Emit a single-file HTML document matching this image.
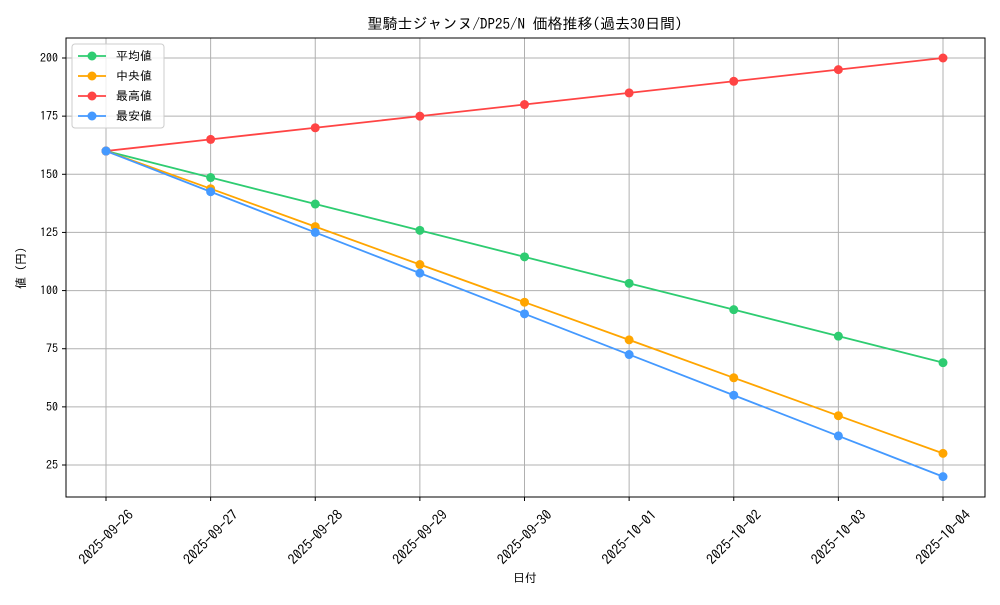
<!DOCTYPE html>
<html><head><meta charset="utf-8"><style>
body{margin:0;background:#fff;}
svg text{font-family:"IPAGothic","Liberation Mono","Noto Sans CJK JP",monospace;fill:#000;}
</style></head><body>
<svg id="chart" width="1000" height="600">
<rect width="1000" height="600" fill="#fff"/>
<text x="525" y="29" font-size="15" text-anchor="middle">聖騎士ジャンヌ/DP25/N 価格推移(過去30日間)</text>
<g id="grid"></g>
<rect x="66" y="38" width="919" height="459" fill="none" stroke="#000" stroke-width="1"/>
<g id="ticks"></g>
<g id="series"></g>
<text x="525" y="582" font-size="12" text-anchor="middle">日付</text>
<text transform="translate(25,268) rotate(-90)" font-size="12" text-anchor="middle">値 (円)</text>
<g id="legend"></g>
</svg>
<script>
const categories=["2025-09-26","2025-09-27","2025-09-28","2025-09-29","2025-09-30","2025-10-01","2025-10-02","2025-10-03","2025-10-04"];
const avgValues=[160,148.6,137.2,125.9,114.5,103.1,91.8,80.4,69];
const medianValues=[160,143.8,127.5,111.2,95,78.8,62.5,46.2,30];
const maxValues=[160,165,170,175,180,185,190,195,200];
const minValues=[160,142.5,125,107.5,90,72.5,55,37.5,20];
const yTicks=[25,50,75,100,125,150,175,200];
const seriesNames=["平均値","中央値","最高値","最安値"];
const seriesColors=["#2ecc71","#ffa500","#ff4444","#4499ff"];
const NS="http://www.w3.org/2000/svg";
function x(i){return 106+i*(943-106)/(categories.length-1);}
function y(v){return 58+(200-v)*(465-58)/175;}
function mk(t,a,p){const e=document.createElementNS(NS,t);for(const k in a)e.setAttribute(k,a[k]);p.appendChild(e);return e;}
const grid=document.getElementById('grid'),ticks=document.getElementById('ticks'),ser=document.getElementById('series'),leg=document.getElementById('legend');
categories.forEach((c,i)=>{
 const g=mk('line',{x1:x(i),x2:x(i),y1:38,y2:497,stroke:'#b0b0b0','stroke-width':1},grid);
 
 
 mk('line',{x1:x(i),x2:x(i),y1:497,y2:501,stroke:'#000'},ticks);
 const t=mk('text',{transform:`translate(${x(i)},${537}) rotate(-45)`,'font-size':14,'text-anchor':'middle','dominant-baseline':'central'},ticks);
 t.textContent=c;
 
 
});
yTicks.forEach(v=>{
 const g=mk('line',{x1:66,x2:985,y1:y(v),y2:y(v),stroke:'#b0b0b0','stroke-width':1},grid);
 
 
 mk('line',{x1:62,x2:66,y1:y(v),y2:y(v),stroke:'#000'},ticks);
 const t=mk('text',{x:58,y:y(v)+4,'font-size':12,'text-anchor':'end'},ticks);
 t.textContent=v;
 
 
});
[avgValues,medianValues,maxValues,minValues].forEach((vals,s)=>{
 const g=mk('g',{},ser);
 
 
 mk('polyline',{points:vals.map((v,i)=>x(i)+','+y(v)).join(' '),fill:'none',stroke:seriesColors[s],'stroke-width':1.8},g);
 vals.forEach((v,i)=>{
  const c=mk('circle',{cx:x(i),cy:y(v),r:4.5,fill:seriesColors[s]},g);
  
  
 });
});
const lb=mk('rect',{x:72,y:44,width:92,height:84,fill:'#fff','fill-opacity':0.8,stroke:'#ccc',rx:3},leg);


seriesNames.forEach((n,s)=>{
 const yy=56+s*20;
 const g=mk('g',{},leg);
 
 
 mk('line',{x1:78,x2:106,y1:yy,y2:yy,stroke:seriesColors[s],'stroke-width':1.8},g);
 mk('circle',{cx:92,cy:yy,r:4.5,fill:seriesColors[s]},g);
 const t=mk('text',{x:116,y:yy+4,'font-size':12},g);
 t.textContent=n;
});
</script>
</body></html>
